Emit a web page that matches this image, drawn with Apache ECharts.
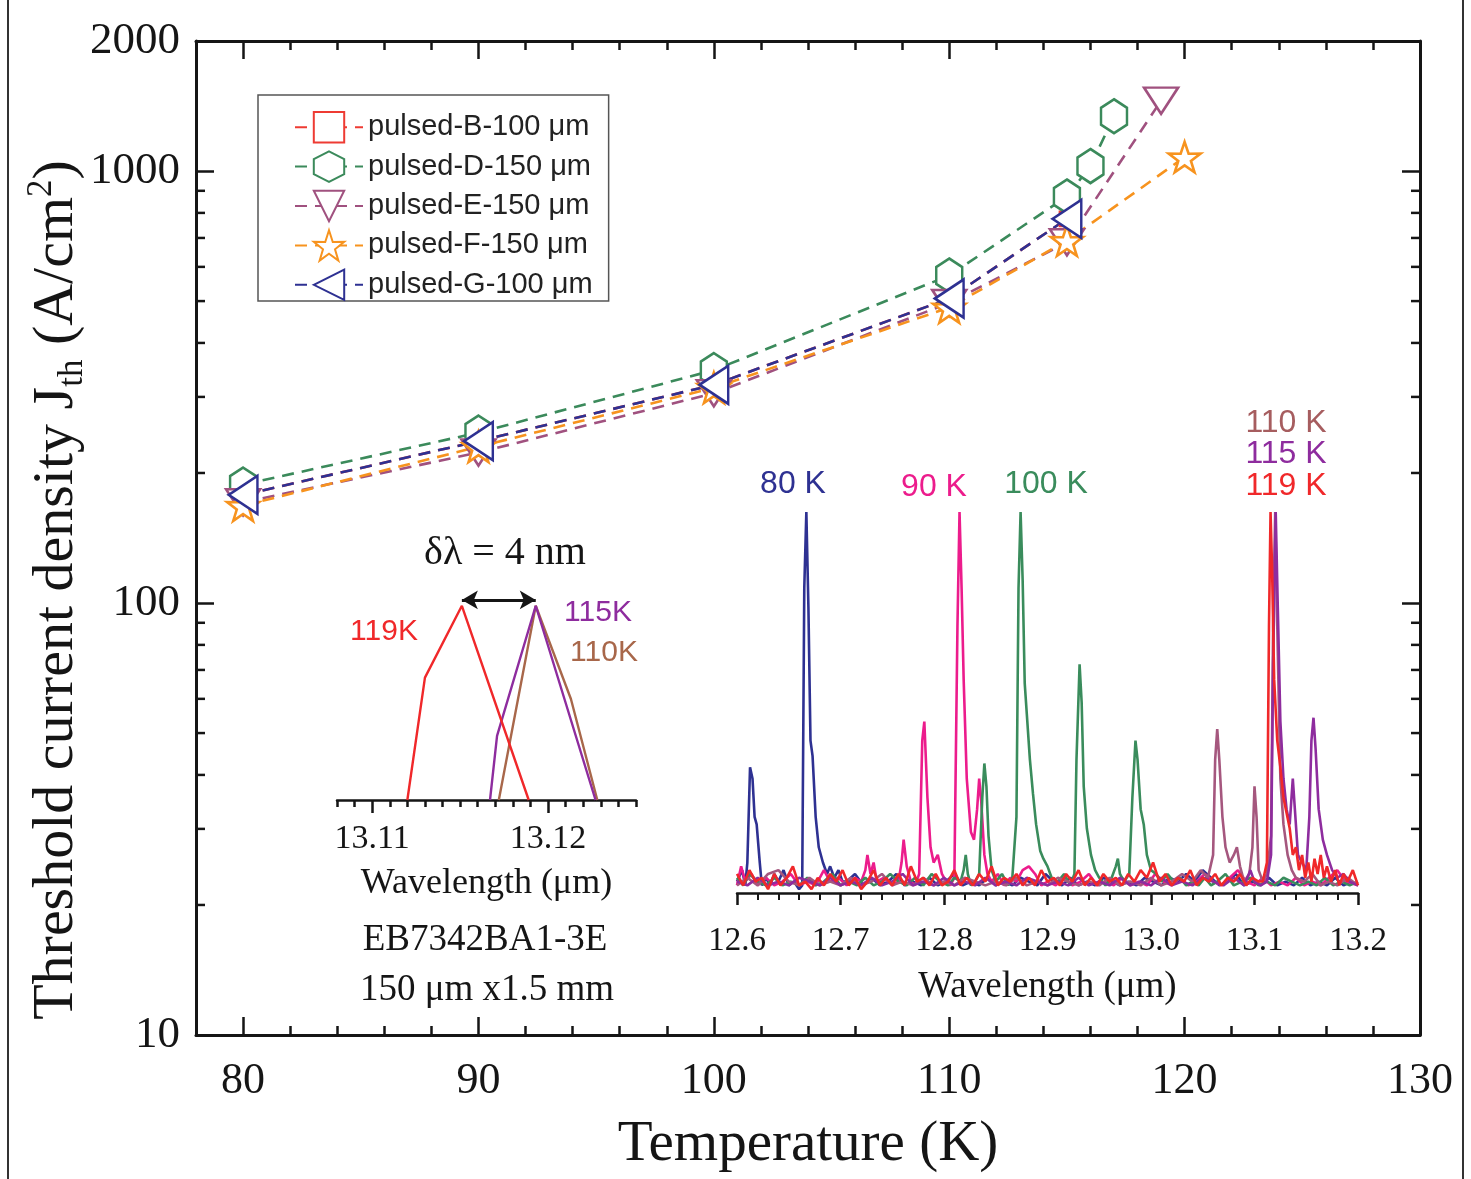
<!DOCTYPE html>
<html><head><meta charset="utf-8">
<script src="https://cdn.jsdelivr.net/npm/echarts@6/dist/echarts.min.js"></script>
<style>html,body{margin:0;padding:0;background:#fff}#c{width:1471px;height:1179px}</style>
</head><body><div id="c"></div>
<script>
// ---------- main plot data (Temperature K, Jth A/cm^2) ----------
const tempB = [80, 90, 100, 110, 115];
const jB    = [178, 237, 320, 507, 775];
const tempD = [80, 90, 100, 110, 115, 116, 117];
const jD    = [188, 248, 346, 573, 873, 1027, 1339];
const tempE = [80, 90, 100, 110, 115, 119];
const jE    = [171, 223, 306, 495, 684, 1455];
const tempF = [80, 90, 100, 110, 115, 120];
const jF    = [168, 230, 315, 483, 690, 1077];
const tempG = [80, 90, 100, 110, 115];
const jG    = [178, 237, 320, 507, 775];
const seriesNames = ['pulsed-B-100 μm','pulsed-D-150 μm','pulsed-E-150 μm','pulsed-F-150 μm','pulsed-G-100 μm'];

// tick values
const xMajor = [80, 90, 100, 110, 120, 130];
const xMinor = [82,84,86,88,92,94,96,98,102,104,106,108,112,114,116,118,122,124,126,128];
const yMinor = [20,30,40,50,60,70,80,90,200,300,400,500,600,700,800,900];
const smMajor = [13.11, 13.12];
const smMinor = [13.108,13.109,13.110,13.111,13.112,13.113,13.114,13.115,13.116,13.117,13.118,13.119,13.120,13.121,13.122,13.123,13.124,13.125];

// ---------- large inset spectra (wavelength um, normalized intensity) ----------
const spec80 = [[12.600,0.03],[12.605,0.06],[12.608,0.02],[12.610,0.08],[12.6126,0.33],[12.615,0.30],[12.617,0.20],[12.619,0.18],[12.622,0.08],[12.624,0.02],[12.628,0.04],[12.632,0.02],[12.636,0.05],[12.640,0.03],[12.645,0.06],[12.650,0.02],[12.655,0.03],[12.660,0.01],[12.663,0.02],[12.665,0.80],[12.667,1.0],[12.669,0.75],[12.671,0.40],[12.673,0.36],[12.676,0.20],[12.679,0.12],[12.683,0.08],[12.687,0.05],[12.690,0.07],[12.694,0.04],[12.698,0.06],[12.702,0.03],
[12.706,0.03],[12.714,0.05],[12.722,0.02],[12.730,0.04],[12.738,0.02],[12.746,0.03],[12.754,0.05],[12.762,0.02],[12.770,0.03],[12.778,0.02],[12.786,0.04],[12.794,0.02],[12.802,0.03],[12.810,0.05],[12.818,0.02],[12.826,0.03],[12.834,0.02],[12.842,0.04],[12.850,0.02],[12.858,0.03],[12.866,0.02],[12.874,0.04],[12.882,0.03],[12.890,0.02],[12.898,0.05],[12.906,0.03],[12.914,0.02],[12.922,0.04],[12.930,0.02],[12.938,0.03],[12.946,0.02],[12.954,0.04],[12.962,0.03],[12.970,0.02],[12.978,0.03],[12.986,0.02],[12.994,0.04],[13.002,0.03],[13.010,0.02],[13.018,0.04],[13.026,0.03],[13.034,0.05],[13.042,0.03],[13.050,0.06],[13.058,0.04],[13.066,0.02],[13.074,0.03],[13.082,0.05],[13.090,0.02],[13.098,0.03],[13.106,0.02],[13.114,0.04],[13.122,0.02],[13.130,0.03],[13.138,0.02],[13.146,0.04],[13.154,0.02],[13.162,0.03],[13.170,0.02],[13.178,0.04],[13.186,0.02],[13.194,0.03],[13.200,0.02]];

const spec90 = [[12.600,0.02],[12.604,0.07],[12.608,0.03],[12.614,0.05],[12.620,0.02],[12.628,0.04],[12.636,0.02],[12.644,0.03],[12.652,0.05],[12.660,0.02],[12.668,0.03],[12.676,0.02],[12.684,0.06],[12.690,0.03],[12.698,0.04],[12.706,0.02],[12.714,0.04],[12.720,0.03],[12.724,0.06],[12.726,0.10],[12.729,0.05],[12.732,0.08],[12.735,0.03],[12.742,0.04],[12.750,0.02],[12.756,0.03],[12.759,0.08],[12.761,0.14],[12.764,0.07],[12.768,0.03],[12.772,0.02],[12.776,0.05],[12.779,0.40],[12.781,0.45],[12.784,0.25],[12.787,0.12],[12.790,0.08],[12.794,0.10],[12.798,0.05],[12.802,0.03],[12.806,0.02],[12.810,0.04],[12.813,0.70],[12.815,1.0],[12.817,0.80],[12.819,0.56],[12.822,0.30],[12.826,0.16],[12.829,0.14],[12.832,0.22],[12.834,0.30],[12.836,0.24],[12.839,0.10],[12.842,0.05],[12.846,0.03],[12.852,0.05],[12.858,0.02],[12.864,0.04],[12.870,0.03],[12.876,0.06],[12.882,0.07],[12.888,0.05],[12.894,0.02],[12.900,0.03],
[12.908,0.02],[12.916,0.04],[12.924,0.02],[12.932,0.03],[12.940,0.05],[12.948,0.02],[12.956,0.03],[12.964,0.02],[12.972,0.04],[12.980,0.02],[12.988,0.03],[12.996,0.02],[13.004,0.05],[13.012,0.03],[13.020,0.02],[13.028,0.04],[13.036,0.02],[13.044,0.03],[13.052,0.05],[13.060,0.03],[13.068,0.02],[13.076,0.04],[13.084,0.06],[13.092,0.03],[13.100,0.02],[13.108,0.04],[13.116,0.02],[13.124,0.03],[13.132,0.02],[13.140,0.04],[13.148,0.02],[13.156,0.03],[13.164,0.02],[13.172,0.04],[13.180,0.06],[13.188,0.03],[13.200,0.02]];

const spec100 = [[12.600,0.04],[12.606,0.02],[12.612,0.05],[12.620,0.03],[12.628,0.02],[12.636,0.04],[12.644,0.02],[12.652,0.03],[12.660,0.02],[12.668,0.04],[12.676,0.02],[12.684,0.03],[12.692,0.05],[12.700,0.02],[12.708,0.03],[12.716,0.02],[12.724,0.04],[12.732,0.02],[12.740,0.03],[12.748,0.05],[12.756,0.03],[12.764,0.02],[12.772,0.04],[12.780,0.02],[12.788,0.05],[12.796,0.03],[12.804,0.02],[12.810,0.04],[12.816,0.03],[12.819,0.06],[12.821,0.10],[12.823,0.05],[12.826,0.02],[12.830,0.03],[12.834,0.05],[12.837,0.25],[12.839,0.34],[12.841,0.28],[12.843,0.15],[12.846,0.06],[12.850,0.03],[12.856,0.05],[12.862,0.02],[12.866,0.04],[12.870,0.20],[12.872,0.80],[12.874,1.0],[12.876,0.82],[12.878,0.55],[12.880,0.47],[12.883,0.35],[12.886,0.26],[12.889,0.18],[12.893,0.11],[12.896,0.09],[12.900,0.07],[12.904,0.04],[12.910,0.03],[12.916,0.05],[12.922,0.02],[12.926,0.05],[12.928,0.35],[12.931,0.60],[12.933,0.50],[12.935,0.28],[12.938,0.17],[12.942,0.10],[12.946,0.06],[12.950,0.04],[12.956,0.02],[12.962,0.04],[12.966,0.07],[12.968,0.09],[12.970,0.05],[12.974,0.03],[12.979,0.05],[12.982,0.25],[12.985,0.40],[12.987,0.35],[12.990,0.22],[12.993,0.18],[12.996,0.10],[13.000,0.06],[13.005,0.05],[13.010,0.03],[13.016,0.05],[13.022,0.03],[13.028,0.04],[13.034,0.02],[13.040,0.03],[13.046,0.02],[13.052,0.04],[13.058,0.02],[13.064,0.03],[13.072,0.05],[13.080,0.02],[13.088,0.03],[13.096,0.04],[13.104,0.02],[13.112,0.03],[13.120,0.02],[13.128,0.04],[13.136,0.03],[13.144,0.02],[13.152,0.03],[13.160,0.02],[13.168,0.04],[13.176,0.02],[13.184,0.03],[13.192,0.02],[13.200,0.03]];

const spec110 = [[12.600,0.02],[12.610,0.04],[12.620,0.02],[12.630,0.05],[12.640,0.06],[12.650,0.03],[12.660,0.02],[12.670,0.04],[12.680,0.02],[12.690,0.03],[12.700,0.02],[12.710,0.04],[12.720,0.02],[12.730,0.03],[12.740,0.05],[12.750,0.02],[12.760,0.03],[12.770,0.02],[12.780,0.04],[12.790,0.02],[12.800,0.03],[12.810,0.02],[12.820,0.04],[12.830,0.03],[12.840,0.02],[12.850,0.03],[12.860,0.02],[12.870,0.04],[12.880,0.02],[12.890,0.03],[12.900,0.02],[12.910,0.04],[12.920,0.03],[12.930,0.02],[12.940,0.03],[12.950,0.02],[12.960,0.04],[12.970,0.02],[12.980,0.03],[12.990,0.02],[13.000,0.04],[13.010,0.02],[13.020,0.03],[13.030,0.05],[13.040,0.03],[13.048,0.06],
[13.055,0.04],[13.060,0.10],[13.062,0.35],[13.064,0.43],[13.066,0.35],[13.069,0.20],[13.072,0.12],[13.076,0.08],[13.080,0.10],[13.083,0.12],[13.086,0.07],[13.090,0.03],[13.095,0.05],[13.098,0.12],[13.100,0.28],[13.102,0.20],[13.104,0.06],[13.108,0.03],[13.112,0.05],[13.116,0.15],[13.118,0.70],[13.120,1.0],[13.122,0.70],[13.125,0.30],[13.128,0.18],[13.132,0.10],[13.136,0.06],[13.140,0.04],[13.148,0.03],[13.156,0.05],[13.164,0.02],[13.172,0.03],[13.180,0.02],[13.190,0.04],[13.200,0.02]];

const spec115 = [[12.600,0.03],[12.610,0.02],[12.620,0.04],[12.630,0.02],[12.640,0.03],[12.650,0.02],[12.660,0.04],[12.670,0.03],[12.680,0.02],[12.690,0.04],[12.700,0.02],[12.710,0.03],[12.720,0.02],[12.730,0.04],[12.740,0.02],[12.750,0.03],[12.760,0.05],[12.770,0.02],[12.780,0.03],[12.790,0.02],[12.800,0.04],[12.810,0.02],[12.820,0.03],[12.830,0.02],[12.840,0.04],[12.850,0.02],[12.860,0.03],[12.870,0.02],[12.880,0.04],[12.890,0.03],[12.900,0.02],[12.910,0.03],[12.920,0.02],[12.930,0.04],[12.940,0.02],[12.950,0.03],[12.960,0.02],[12.970,0.04],[12.980,0.02],[12.990,0.03],[13.000,0.02],[13.010,0.04],[13.020,0.02],[13.030,0.03],[13.040,0.02],[13.050,0.04],[13.060,0.03],[13.070,0.02],[13.080,0.04],[13.090,0.02],[13.096,0.06],[13.100,0.03],[13.106,0.02],
[13.112,0.03],[13.116,0.10],[13.118,0.60],[13.1205,1.0],[13.1225,0.75],[13.125,0.45],[13.128,0.30],[13.131,0.22],[13.134,0.18],[13.137,0.30],[13.139,0.22],[13.142,0.10],[13.146,0.08],[13.150,0.06],[13.153,0.20],[13.155,0.40],[13.157,0.46],[13.159,0.38],[13.162,0.22],[13.166,0.14],[13.170,0.10],[13.175,0.06],[13.180,0.04],[13.186,0.05],[13.192,0.03],[13.200,0.02]];

const spec119 = [[12.600,0.05],[12.606,0.02],[12.612,0.06],[12.618,0.03],[12.624,0.04],[12.630,0.01],[12.636,0.05],[12.642,0.02],[12.648,0.04],[12.654,0.07],[12.660,0.02],[12.666,0.03],[12.672,0.01],[12.678,0.04],[12.684,0.02],[12.690,0.05],[12.696,0.03],[12.702,0.06],[12.708,0.02],[12.714,0.04],[12.720,0.01],[12.726,0.03],[12.732,0.06],[12.738,0.02],[12.744,0.04],[12.750,0.02],[12.756,0.05],[12.762,0.02],[12.768,0.07],[12.774,0.03],[12.780,0.04],[12.786,0.02],[12.792,0.05],[12.798,0.02],[12.804,0.03],[12.810,0.06],[12.816,0.02],[12.822,0.04],[12.828,0.02],[12.834,0.05],[12.840,0.03],[12.846,0.07],[12.852,0.02],[12.858,0.04],[12.864,0.03],[12.870,0.05],[12.876,0.02],[12.882,0.04],[12.888,0.02],[12.894,0.06],[12.900,0.03],[12.906,0.04],[12.912,0.02],[12.918,0.05],[12.924,0.03],[12.930,0.06],[12.936,0.02],[12.942,0.04],[12.948,0.02],[12.954,0.05],[12.960,0.03],[12.966,0.04],[12.972,0.02],[12.978,0.05],[12.984,0.03],[12.990,0.06],[12.996,0.04],[13.002,0.08],[13.008,0.03],[13.014,0.05],[13.020,0.02],[13.026,0.04],[13.032,0.03],[13.038,0.06],[13.044,0.02],[13.050,0.04],[13.056,0.03],[13.062,0.05],[13.068,0.02],[13.074,0.04],[13.080,0.03],[13.086,0.05],[13.092,0.02],[13.098,0.04],[13.104,0.03],
[13.108,0.03],[13.112,0.08],[13.114,0.70],[13.1155,1.0],[13.117,0.85],[13.119,0.56],[13.122,0.40],[13.125,0.33],[13.128,0.25],[13.131,0.21],[13.134,0.17],[13.137,0.10],[13.140,0.12],[13.143,0.06],[13.146,0.10],[13.149,0.04],[13.152,0.08],[13.155,0.03],[13.158,0.09],[13.161,0.05],[13.164,0.10],[13.167,0.04],[13.170,0.07],[13.174,0.03],[13.178,0.06],[13.182,0.02],[13.186,0.05],[13.190,0.03],[13.195,0.06],[13.200,0.02]];

// ---------- small inset spectra ----------
const sm119 = [[13.1120,0],[13.1130,0.63],[13.1151,1.0],[13.1189,0]];
const sm115 = [[13.1167,0],[13.1171,0.33],[13.1193,1.0],[13.1227,0]];
const sm110 = [[13.1172,0],[13.1193,1.0],[13.1213,0.52],[13.1228,0]];
const deltaArrow = [13.1151, 13.1193];

// ---------- styling ----------
const serif = "'Liberation Serif','Times New Roman',serif";
const sans = "'Liberation Sans',Arial,sans-serif";
const ink = '#151515';
const C = {B:'#ee3b33', D:'#3b8a5b', E:'#a0517f', F:'#f7931e', G:'#2e3192'};
const S = {s80:'#2e3192', s90:'#ec1c8c', s100:'#3a8c5c', s110:'#a5577e', s115:'#8e2c9e', s119:'#f0282a', b110:'#a8674a'};

const hexPath = 'path://M50 0 L93.3 25 L93.3 75 L50 100 L6.7 75 L6.7 25 Z';
const triDown = 'path://M0 0 L100 0 L50 87 Z';
const triLeft = 'path://M0 50 L87 0 L87 100 Z';
const star = 'path://M50 0 L61.8 35.1 L97.6 34.5 L68.8 56.7 L79.4 90.5 L50 70 L20.6 90.5 L31.2 56.7 L2.4 34.5 L38.2 35.1 Z';

function pairs(xs, ys){ return xs.map((x,i)=>[x, ys[i]]); }
function mainSeries(name, xs, ys, color, symbol, size){
  return {
    name, type:'line', xAxisIndex:0, yAxisIndex:0, data:pairs(xs, ys),
    symbol, symbolSize:size, symbolKeepAspect:true, showAllSymbol:true,
    lineStyle:{color, width:2.6, type:[12,8]},
    itemStyle:{color:'#fff', borderColor:color, borderWidth:2.6},
    z:3
  };
}
function specSeries(data, color, xi, yi, w){
  return {type:'line', xAxisIndex:xi, yAxisIndex:yi, data, showSymbol:false, symbol:'none',
    lineStyle:{color, width:w||2.6}, silent:true, z:2, animation:false};
}
function tickAxis(grid, pos, vals, len, inside, extra){
  return Object.assign({gridIndex:grid, type:'value', position:pos,
    axisLine:{show:false}, splitLine:{show:false},
    axisTick:{show:true, inside, length:len, customValues:vals, lineStyle:{color:ink, width:2.5}},
    axisLabel:{show:false}}, extra||{});
}
function txt(text, x, y, fill, size, family){
  return {type:'text', x, y, silent:true,
    style:{text, fill, fontSize:size, fontFamily:family, align:'center', verticalAlign:'middle'}};
}

const chart = echarts.init(document.getElementById('c'), null, {renderer:'canvas'});
const option = {
  animation:false,
  backgroundColor:'#fff',
  grid:[
    {left:196, top:41, width:1224, height:999},
    {left:737, top:512, width:621, height:381},
    {left:337, top:598, width:299, height:202}
  ],
  xAxis:[
    {gridIndex:0, type:'value', min:78, max:130, position:'bottom',
     axisLine:{lineStyle:{color:ink, width:3}},
     axisTick:{inside:true, length:18, customValues:xMajor, lineStyle:{color:ink, width:2.5}},
     axisLabel:{customValues:xMajor, margin:24, fontSize:44, fontFamily:serif, color:ink},
     splitLine:{show:false},
     name:'Temperature (K)', nameLocation:'middle', nameGap:82,
     nameTextStyle:{fontSize:57, fontFamily:serif, color:ink}},
    tickAxis(0, 'bottom', xMinor, 9, true, {min:78, max:130}),
    {gridIndex:0, type:'value', min:78, max:130, position:'top',
     axisLine:{lineStyle:{color:ink, width:3}},
     axisTick:{inside:true, length:18, customValues:xMajor, lineStyle:{color:ink, width:2.5}},
     axisLabel:{show:false}, splitLine:{show:false}},
    tickAxis(0, 'top', xMinor, 9, true, {min:78, max:130}),
    {gridIndex:1, type:'value', min:12.6, max:13.2, interval:0.1, position:'bottom',
     axisLine:{lineStyle:{color:ink, width:2.5}},
     axisTick:{inside:false, length:12, lineStyle:{color:ink, width:2.5}},
     minorTick:{show:true, splitNumber:5, length:7, lineStyle:{color:ink, width:2}},
     axisLabel:{margin:32, fontSize:33, fontFamily:serif, color:ink, formatter:v=>v.toFixed(1)},
     splitLine:{show:false}, minorSplitLine:{show:false},
     name:'Wavelength (μm)', nameLocation:'middle', nameGap:76,
     nameTextStyle:{fontSize:37, fontFamily:serif, color:ink}},
    {gridIndex:2, type:'value', min:13.108, max:13.125, position:'bottom',
     axisLine:{lineStyle:{color:ink, width:2.5}},
     axisTick:{inside:false, length:13, customValues:smMajor, lineStyle:{color:ink, width:2.5}},
     axisLabel:{customValues:smMajor, margin:22, fontSize:34, fontFamily:serif, color:ink, formatter:v=>v.toFixed(2)},
     splitLine:{show:false},
     name:'Wavelength (μm)', nameLocation:'middle', nameGap:66,
     nameTextStyle:{fontSize:36, fontFamily:serif, color:ink}},
    tickAxis(2, 'bottom', smMinor, 7, false, {min:13.108, max:13.125})
  ],
  yAxis:[
    {gridIndex:0, type:'log', logBase:10, min:10, max:2000, position:'left',
     axisLine:{lineStyle:{color:ink, width:3}},
     axisTick:{inside:true, length:18, lineStyle:{color:ink, width:2.5}},
     axisLabel:{margin:16, fontSize:45, fontFamily:serif, color:ink, formatter:v=>String(Math.round(v))},
     splitLine:{show:false}},
    {gridIndex:0, type:'log', logBase:10, min:10, max:2000, position:'right',
     axisLine:{lineStyle:{color:ink, width:3}},
     axisTick:{inside:true, length:18, lineStyle:{color:ink, width:2.5}},
     axisLabel:{show:false}, splitLine:{show:false}},
    {gridIndex:1, type:'value', min:0, max:1, show:false},
    {gridIndex:2, type:'value', min:0, max:1.04, show:false}
  ],
  legend:{
    data:seriesNames, orient:'vertical', left:258, top:95,
    padding:[16, 16, 0, 36], itemGap:7, itemWidth:68, itemHeight:38,
    borderColor:'#555', borderWidth:1.5, backgroundColor:'#fff',
    textStyle:{fontSize:29, fontFamily:sans, color:'#222'}
  },
  series:[
    // minor ticks of the log axis (left and right)
    {type:'custom', xAxisIndex:0, yAxisIndex:0, silent:true, z:4,
     data:yMinor.map(v=>[78, v]),
     renderItem:(p, api)=>{
       const v = api.value(1);
       const a = api.coord([78, v]), b = api.coord([130, v]);
       return {type:'group', children:[
         {type:'line', shape:{x1:a[0], y1:a[1], x2:a[0]+9, y2:a[1]}, style:{stroke:ink, lineWidth:2.5}},
         {type:'line', shape:{x1:b[0]-9, y1:b[1], x2:b[0], y2:b[1]}, style:{stroke:ink, lineWidth:2.5}}
       ]};
     }},
    mainSeries(seriesNames[0], tempB, jB, C.B, 'rect', 14),
    mainSeries(seriesNames[1], tempD, jD, C.D, hexPath, [30,34]),
    mainSeries(seriesNames[2], tempE, jE, C.E, triDown, [34,30]),
    mainSeries(seriesNames[3], tempF, jF, C.F, star, 32),
    mainSeries(seriesNames[4], tempG, jG, C.G, triLeft, [33,38]),
    specSeries(spec80, S.s80, 4, 2),
    specSeries(spec90, S.s90, 4, 2),
    specSeries(spec100, S.s100, 4, 2),
    specSeries(spec110, S.s110, 4, 2),
    specSeries(spec115, S.s115, 4, 2),
    specSeries(spec119, S.s119, 4, 2),
    specSeries(sm110, S.b110, 5, 3, 2.4),
    specSeries(sm115, S.s115, 5, 3, 2.4),
    Object.assign(specSeries(sm119, S.s119, 5, 3, 2.4), {
      markLine:{silent:true, symbol:['arrow','arrow'], symbolSize:[14,16], label:{show:false},
        lineStyle:{color:ink, width:3, type:'solid'}, animation:false,
        data:[[{coord:[deltaArrow[0],1.03]},{coord:[deltaArrow[1],1.03]}]]}
    })
  ],
  graphic:[
    {type:'line', shape:{x1:8, y1:0, x2:8, y2:1179}, style:{stroke:'#333', lineWidth:2}, silent:true},
    {type:'line', shape:{x1:1463, y1:0, x2:1463, y2:1179}, style:{stroke:'#333', lineWidth:2}, silent:true},
    {type:'text', x:57, y:590, rotation:Math.PI/2, silent:true,
     style:{text:'{m|Threshold current density J}{s|th}{m| (A/cm}{p|2}{m|)}',
       align:'center', verticalAlign:'middle', fill:ink,
       rich:{
         m:{fontSize:58, fontFamily:serif, fill:ink, lineHeight:66},
         s:{fontSize:35, fontFamily:serif, fill:ink, lineHeight:30, verticalAlign:'bottom'},
         p:{fontSize:35, fontFamily:serif, fill:ink, lineHeight:34, verticalAlign:'top'}
       }}},
    txt('80 K', 793, 484, S.s80, 32, sans),
    txt('90 K', 934, 487, S.s90, 32, sans),
    txt('100 K', 1046, 484, S.s100, 32, sans),
    txt('110 K', 1286, 423, '#a65d5f', 32, sans),
    txt('115 K', 1286, 454, S.s115, 32, sans),
    txt('119 K', 1286, 486, S.s119, 32, sans),
    txt('δλ = 4 nm', 505, 553, ink, 40, serif),
    txt('119K', 384, 632, S.s119, 30, sans),
    txt('115K', 598, 613, S.s115, 30, sans),
    txt('110K', 604, 653, S.b110, 30, sans),
    txt('EB7342BA1-3E', 485, 940, ink, 37, serif),
    txt('150 μm x1.5 mm', 487, 990, ink, 37, serif)
  ]
};
chart.setOption(option);
</script>
</body></html>
